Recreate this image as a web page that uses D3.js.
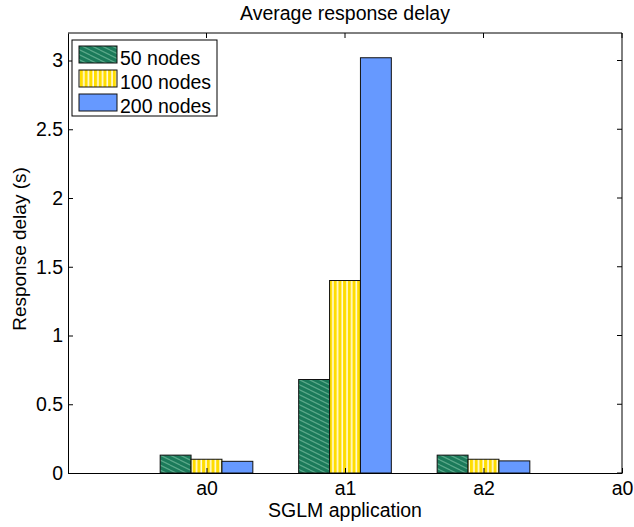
<!DOCTYPE html>
<html>
<head>
<meta charset="utf-8">
<script src="https://cdn.jsdelivr.net/npm/d3@7"></script>
<style>
  html, body { margin: 0; padding: 0; background: #fff; }
  svg { display: block; font-family: "Liberation Sans", Arial, sans-serif; }
</style>
</head>
<body>
<svg id="chart" width="634" height="527"></svg>
<script>
// Categories on the x axis (positions 1..3) and the extra tick label at x = 4
const categories = ["a0", "a1", "a2"];
const tickPositions = [1, 2, 3, 4];
const tickLabels = ["a0", "a1", "a2", "a0"];

// Series: response delay in seconds per application
const seriesNames = ["50 nodes", "100 nodes", "200 nodes"];
const nodes50 = [0.13, 0.68, 0.13];
const nodes100 = [0.10, 1.40, 0.10];
const nodes200 = [0.085, 3.02, 0.088];
const seriesValues = [nodes50, nodes100, nodes200];

const yTicks = [0, 0.5, 1, 1.5, 2, 2.5, 3];

const FS = 19.5;
const svg = d3.select("#chart");
const margin = { left: 68, right: 12, top: 33, bottom: 54 };
const W = 634, H = 527;

const x = d3.scaleLinear().domain([0, 4]).range([margin.left, W - margin.right]);
const y = d3.scaleLinear().domain([0, 3.2]).range([H - margin.bottom, margin.top]);

// Fill patterns
const defs = svg.append("defs");
const pg = defs.append("pattern").attr("id", "pat-green")
  .attr("patternUnits", "userSpaceOnUse").attr("width", 10).attr("height", 5);
pg.append("rect").attr("width", 10).attr("height", 5).attr("fill", "#1b7a5a");
[-5, 0, 5].forEach(dy => {
  pg.append("line").attr("x1", 0).attr("y1", dy).attr("x2", 10).attr("y2", dy + 5)
    .attr("stroke", "#5ba889").attr("stroke-width", 1.2);
});
const py = defs.append("pattern").attr("id", "pat-yellow")
  .attr("patternUnits", "userSpaceOnUse").attr("width", 4.7).attr("height", 10);
py.append("rect").attr("width", 4.7).attr("height", 10).attr("fill", "#ffdd00");
py.append("rect").attr("x", 3.2).attr("width", 1.4).attr("height", 10).attr("fill", "#ffffff");

const fills = ["url(#pat-green)", "url(#pat-yellow)", "#6699ff"];

// Bars
const barW = 0.223;
const offsets = [-1, 0, 1];
seriesValues.forEach((vals, si) => {
  svg.append("g").selectAll("rect").data(vals).join("rect")
    .attr("x", (d, i) => x(i + 1 + offsets[si] * barW - barW / 2))
    .attr("width", x(barW) - x(0))
    .attr("y", d => y(d))
    .attr("height", d => y(0) - y(d))
    .attr("fill", fills[si])
    .attr("stroke", "#111")
    .attr("stroke-width", 1);
});

// Axes (box style)
const gx = svg.append("g").attr("transform", `translate(0,${y(0)})`)
  .call(d3.axisBottom(x).tickValues(tickPositions)
    .tickFormat((d, i) => tickLabels[i]).tickSizeInner(-5).tickSizeOuter(0).tickPadding(8));
const gy = svg.append("g").attr("transform", `translate(${x(0)},0)`)
  .call(d3.axisLeft(y).tickValues(yTicks).tickFormat(d3.format("")).tickSizeInner(-5).tickSizeOuter(0).tickPadding(5));
[gx, gy].forEach(g => {
  g.selectAll("text").attr("font-size", FS).attr("fill", "#000")
    .style("font-family", "'Liberation Sans', Arial, sans-serif");
  g.selectAll("line").attr("stroke", "#000");
  g.select(".domain").attr("stroke", "#000");
});
// Top and right frame lines with mirrored ticks
svg.append("line").attr("x1", x(0)).attr("x2", x(4)).attr("y1", y(3.2)).attr("y2", y(3.2)).attr("stroke", "#000");
svg.append("line").attr("x1", x(4)).attr("x2", x(4)).attr("y1", y(3.2)).attr("y2", y(0)).attr("stroke", "#000");
svg.append("g").selectAll("line").data(tickPositions).join("line")
  .attr("x1", d => x(d)).attr("x2", d => x(d)).attr("y1", y(3.2)).attr("y2", y(3.2) + 5).attr("stroke", "#000");
svg.append("g").selectAll("line").data(yTicks).join("line")
  .attr("x1", x(4)).attr("x2", x(4) - 5).attr("y1", d => y(d)).attr("y2", d => y(d)).attr("stroke", "#000");

// Titles
svg.append("text").attr("x", (x(0) + x(4)) / 2).attr("y", 20).attr("text-anchor", "middle")
  .attr("font-size", FS).text("Average response delay");
svg.append("text").attr("x", (x(0) + x(4)) / 2).attr("y", 517).attr("text-anchor", "middle")
  .attr("font-size", FS).text("SGLM application");
svg.append("text").attr("transform", `translate(26,249) rotate(-90)`)
  .attr("text-anchor", "middle").attr("font-size", 19).text("Response delay (s)");

// Legend
const lg = svg.append("g");
lg.append("rect").attr("x", 72).attr("y", 40).attr("width", 145).attr("height", 76)
  .attr("fill", "#fff").attr("stroke", "#000");
seriesNames.forEach((name, i) => {
  const ry = 46 + i * 24;
  lg.append("rect").attr("x", 79).attr("y", ry).attr("width", 38).attr("height", 17)
    .attr("fill", fills[i]).attr("stroke", "#111");
  lg.append("text").attr("x", 120).attr("y", ry + 18.5).attr("font-size", FS).text(name);
});
</script>
</body>
</html>
